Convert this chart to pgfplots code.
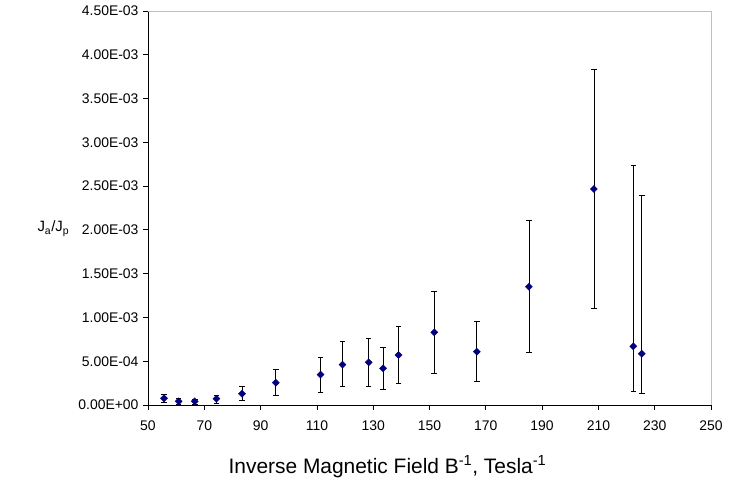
\documentclass[border=0pt]{standalone}
\usepackage{pgfplots}
\pgfplotsset{compat=1.18}
\usepackage{pgfplotstable}
\usepackage{fontspec}
\setmainfont{Liberation Sans}
\definecolor{navyblue}{HTML}{000080}
\definecolor{frame}{HTML}{C0C0C0}

\pgfplotstableread{
x      y         ep        em
55.7   7.7e-5    4.5e-5    5.1e-5
60.9   4.2e-5    3.0e-5    3.1e-5
66.6   4.2e-5    2.8e-5    3.2e-5
74.3   7.2e-5    3.4e-5    4.9e-5
83.4   1.29e-4   8.4e-5    7.5e-5
95.4   2.55e-4   1.52e-4   1.41e-4
111.3  3.47e-4   1.98e-4   1.99e-4
119.1  4.61e-4   2.66e-4   2.52e-4
128.4  4.87e-4   2.70e-4   2.74e-4
133.5  4.19e-4   2.36e-4   2.36e-4
139.0  5.71e-4   3.24e-4   3.20e-4
151.7  8.30e-4   4.64e-4   4.65e-4
166.8  6.09e-4   3.43e-4   3.43e-4
185.3  1.351e-3  7.54e-4   7.49e-4
208.4  2.467e-3  1.367e-3  1.363e-3
222.4  6.70e-4   2.063e-3  5.14e-4
225.4  5.86e-4   1.809e-3  4.52e-4
}\datatable

\begin{document}
\begin{tikzpicture}
\begin{axis}[
  name=ax,
  scale only axis,
  width=563bp, height=394bp,
  xmin=50, xmax=250, ymin=0, ymax=0.0045,
  axis x line*=bottom, axis y line*=left,
  axis line style={black, line width=0.8pt, -},
  tick align=outside,
  major tick length=5bp,
  tick style={black, line width=0.8pt},
  xtick={50,70,90,110,130,150,170,190,210,230,250},
  ytick={0,0.0005,0.001,0.0015,0.002,0.0025,0.003,0.0035,0.004,0.0045},
  yticklabels={0.00E+00,5.00E-04,1.00E-03,1.50E-03,2.00E-03,2.50E-03,3.00E-03,3.50E-03,4.00E-03,4.50E-03},
  scaled y ticks=false,
  /pgf/number format/assume math mode=true,
  ticklabel style={font=\fontsize{14}{16}\selectfont},
  xticklabel style={yshift=-7bp},
  yticklabel style={xshift=-1bp},
  xlabel={Inverse Magnetic Field B\textsuperscript{-1}, Tesla\textsuperscript{-1}},
  xlabel style={font=\fontsize{21}{25}\selectfont, at={(axis description cs:0.4254,0)}, anchor=base, yshift=-68bp},
  ylabel={J\textsubscript{a}/J\textsubscript{p}},
  ylabel style={font=\fontsize{15}{17}\selectfont, rotate=-90, at={(axis description cs:-0.2025,0.4391)}, anchor=base west},
  clip=false,
]
\draw[frame, line width=0.8pt] (rel axis cs:0,1) -- (rel axis cs:1,1) -- (rel axis cs:1,0);
\addplot[
  only marks,
  mark=square*,
  mark size=2.5bp,
  mark options={fill=navyblue, draw=navyblue, rotate=45},
  error bars/.cd,
    y dir=both, y explicit,
    error bar style={black, line width=0.7pt},
    error mark options={rotate=90, mark size=2.8bp, black, line width=0.7pt},
] table[x=x, y=y, y error plus=ep, y error minus=em] {\datatable};
\end{axis}
\pgfresetboundingbox
\path[use as bounding box] (ax.south west) ++(-148bp,-76bp) rectangle ++(732bp,481bp);
\end{tikzpicture}
\end{document}
